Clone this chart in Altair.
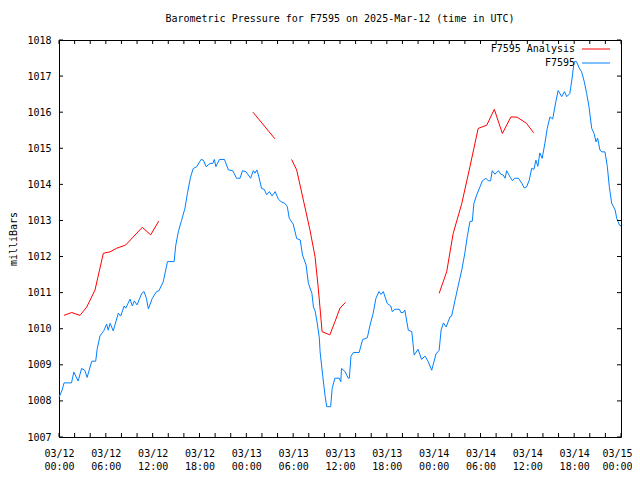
import altair as alt
import pandas as pd

# Observed station pressure (hours since 2025-03-12 00:00 UTC, millibars)
obs_hours = [0.0, 0.4, 0.65, 1.6, 1.9, 2.45, 2.9, 3.3, 3.6, 4.2, 4.7, 4.9, 5.25, 5.75, 6.1, 6.3, 6.55, 6.95,
             7.6, 7.9, 8.35, 8.55, 9.1, 9.4, 9.65, 10.0, 10.6, 10.9, 11.2, 11.45, 11.95, 12.5, 12.8, 13.35,
             13.9, 14.75, 14.95, 15.3, 15.7, 16.15, 16.45, 16.85, 17.2, 17.65, 18.2, 18.5, 18.85, 19.35,
             19.7, 19.9, 20.1, 20.55, 21.2, 21.7, 22.25, 22.75, 23.2, 23.5, 23.95, 24.55, 24.9, 25.1, 25.35,
             25.55, 25.95, 26.3, 26.6, 26.95, 27.3, 27.7, 28.1, 28.45, 28.95, 29.25, 29.5, 30.0, 30.45, 30.9,
             31.2, 31.65, 31.95, 32.4, 32.6, 32.8, 33.05, 33.35, 33.45, 33.8, 34.1, 34.3, 34.8, 35.0, 35.35,
             35.9, 36.1, 36.2, 36.65, 37.05, 37.2, 37.4, 37.7, 38.45, 38.9, 39.5, 39.85, 40.25, 40.6, 41.0,
             41.25, 41.55, 42.05, 42.5, 42.7, 43.05, 43.6, 43.8, 44.1, 44.3, 44.75, 45.2, 45.5, 46.0, 46.45,
             46.9, 47.3, 47.75, 48.3, 48.7, 48.95, 49.25, 49.6, 50.1, 50.3, 50.75, 51.15, 51.6, 52.0, 52.3,
             52.65, 52.95, 53.15, 53.5, 53.95, 54.25, 54.7, 55.0, 55.3, 55.5, 55.85, 56.3, 56.6, 56.9, 57.15,
             57.35, 57.8, 58.1, 58.35, 58.85, 59.3, 59.6, 59.9, 60.25, 60.55, 60.85, 61.1, 61.35, 61.6, 61.9,
             62.25, 62.55, 62.9, 63.25, 63.65, 63.95, 64.4, 64.75, 65.05, 65.45, 65.7, 66.0, 66.3, 66.65,
             66.95, 67.3, 67.6, 67.9, 68.25, 68.55, 68.8, 69.0, 69.3, 69.55, 69.95, 70.25, 70.5, 70.8, 71.25,
             71.45, 71.8, 72.0]
obs_mbar = [1008.1, 1008.3, 1008.5, 1008.5, 1008.8, 1008.55, 1008.9, 1008.85, 1008.65, 1009.1, 1009.1, 1009.45,
            1009.8, 1009.95, 1010.13, 1009.96, 1010.15, 1009.94, 1010.43, 1010.35, 1010.63, 1010.57, 1010.82,
            1010.63, 1010.77, 1010.66, 1010.98, 1011.03, 1010.84, 1010.55, 1010.84, 1011.03, 1011.05, 1011.3,
            1011.86, 1011.86, 1012.3, 1012.7, 1013.0, 1013.35, 1013.75, 1014.2, 1014.44, 1014.49, 1014.69,
            1014.67, 1014.49, 1014.58, 1014.58, 1014.69, 1014.49, 1014.69, 1014.69, 1014.4, 1014.38, 1014.17,
            1014.17, 1014.38, 1014.35, 1014.17, 1014.38, 1014.31, 1014.4, 1014.26, 1013.89, 1013.86, 1013.71,
            1013.8, 1013.68, 1013.8, 1013.59, 1013.52, 1013.47, 1013.38, 1013.06, 1012.9, 1012.5, 1012.46,
            1012.04, 1011.77, 1011.26, 1010.98, 1010.6, 1010.5, 1010.2, 1009.75, 1009.36, 1008.67, 1008.12,
            1007.84, 1007.84, 1008.35, 1008.63, 1008.63, 1008.53, 1008.9, 1008.81, 1008.63, 1008.63, 1009.23,
            1009.34, 1009.34, 1009.7, 1009.75, 1010.1, 1010.43, 1010.84, 1011.03, 1010.95, 1011.03, 1010.7,
            1010.63, 1010.47, 1010.54, 1010.54, 1010.45, 1010.45, 1010.52, 1009.96, 1009.92, 1009.27, 1009.43,
            1009.15, 1009.24, 1009.09, 1008.85, 1009.3, 1009.4, 1009.96, 1010.16, 1010.05, 1010.33, 1010.35,
            1010.8, 1011.2, 1011.63, 1012.1, 1012.55, 1012.97, 1012.98, 1013.47, 1013.7, 1013.94, 1014.1,
            1014.17, 1014.1, 1014.1, 1014.38, 1014.28, 1014.38, 1014.28, 1014.26, 1014.17, 1014.38, 1014.2,
            1014.1, 1014.17, 1014.17, 1014.03, 1013.9, 1013.93, 1014.12, 1014.44, 1014.42, 1014.67, 1014.5,
            1014.87, 1014.72, 1015.14, 1015.55, 1015.87, 1015.81, 1016.29, 1016.6, 1016.43, 1016.57, 1016.43,
            1016.52, 1016.89, 1017.4, 1017.4, 1017.22, 1017.12, 1016.84, 1016.52, 1016.15, 1015.55, 1015.41,
            1015.18, 1015.28, 1014.95, 1014.9, 1014.9, 1014.49, 1013.94, 1013.48, 1013.29, 1013.06, 1012.87,
            1012.85]

# Analysis pressure, in separate segments
ana_seg = [1] * 12 + [2] * 2 + [3] * 12 + [4] * 13
ana_hours = [0.64, 1.63, 2.69, 3.55, 4.61, 5.68, 6.53, 7.39, 8.54, 10.67, 11.75, 12.77,
             24.85, 27.67,
             29.8, 30.45, 31.3, 32.15, 32.8, 33.2, 33.5, 33.7, 34.7, 35.36, 36.0, 36.7,
             48.7, 49.67, 50.5, 51.6, 52.65, 53.7, 54.8, 55.77, 56.8, 57.9, 58.7, 59.9, 60.8]
ana_mbar = [1010.37, 1010.45, 1010.37, 1010.6, 1011.07, 1012.09, 1012.13, 1012.23, 1012.32, 1012.81, 1012.6, 1012.98,
            1016.0, 1015.26,
            1014.69, 1014.4, 1013.57, 1012.74, 1012.0, 1011.16, 1010.43, 1009.92, 1009.83, 1010.2, 1010.57, 1010.73,
            1010.98, 1011.58, 1012.64, 1013.47, 1014.49, 1015.55, 1015.64, 1016.08, 1015.41, 1015.87, 1015.86,
            1015.69, 1015.43]

x_label_hours = list(range(0, 73, 6))
x_tick_hours = list(range(0, 73, 2))
y_tick_values = list(range(1007, 1019))

W, H = 562, 397
RED = "#ff0000"
BLUE = "#0080ff"
FONT = "DejaVu Sans Mono"

obs = pd.DataFrame({"h": obs_hours, "p": obs_mbar})
ana = pd.DataFrame({"seg": ana_seg, "h": ana_hours, "p": ana_mbar})
xt = pd.DataFrame({"h": x_tick_hours})
yt = pd.DataFrame({"p": y_tick_values})

xs = alt.Scale(domain=[0, 72], nice=False, zero=False)
ys = alt.Scale(domain=[1007, 1018], nice=False, zero=False)

x_axis = alt.Axis(values=x_label_hours, ticks=False, domain=False, grid=False, title=None,
                  labelExpr="['03/' + format(12 + floor(datum.value / 24), '02d'), format(datum.value % 24, '02d') + ':00']",
                  labelPadding=11, labelLineHeight=13, labelFont=FONT, labelFontSize=10,
                  labelOffset={"condition": {"test": "datum.value == 72", "value": -4}, "value": 0},
                  labelColor="black", labelFlush=False, labelOverlap=False)
y_axis = alt.Axis(values=y_tick_values, ticks=False, domain=False, grid=False, title="milliBars",
                  format="d", labelPadding=8, labelFont=FONT, labelFontSize=10, labelColor="black",
                  titleFont=FONT, titleFontSize=10, titleFontWeight="normal", titleColor="black",
                  titlePadding=8, labelFlush=False, labelOverlap=False)

X = alt.X("h:Q", scale=xs, axis=x_axis)
Y = alt.Y("p:Q", scale=ys, axis=y_axis)

obs_line = alt.Chart(obs).mark_line(color=BLUE, strokeWidth=1, interpolate="linear").encode(x=X, y=Y)
ana_line = alt.Chart(ana).mark_line(color=RED, strokeWidth=1).encode(x=X, y=Y, detail="seg:N")

xtick_bottom = alt.Chart(xt).mark_rule(color="black", strokeWidth=1).encode(
    x=X, y=alt.value(H), y2=alt.value(H - 4))
xtick_top = alt.Chart(xt).mark_rule(color="black", strokeWidth=1).encode(
    x=X, y=alt.value(0), y2=alt.value(4))
ytick_left = alt.Chart(yt).mark_rule(color="black", strokeWidth=1).encode(
    y=Y, x=alt.value(0), x2=alt.value(4))
ytick_right = alt.Chart(yt).mark_rule(color="black", strokeWidth=1).encode(
    y=Y, x=alt.value(W), x2=alt.value(W - 4))

legend_src = alt.Data(values=[{}])
leg_t1 = alt.Chart(legend_src).mark_text(text="F7595 Analysis", align="right", baseline="middle",
                                          font=FONT, fontSize=10, color="black").encode(
    x=alt.value(516), y=alt.value(9))
leg_t2 = alt.Chart(legend_src).mark_text(text="F7595", align="right", baseline="middle",
                                          font=FONT, fontSize=10, color="black").encode(
    x=alt.value(516), y=alt.value(23))
leg_l1 = alt.Chart(legend_src).mark_rule(color=RED, strokeWidth=1).encode(
    x=alt.value(523), x2=alt.value(551), y=alt.value(9))
leg_l2 = alt.Chart(legend_src).mark_rule(color=BLUE, strokeWidth=1).encode(
    x=alt.value(523), x2=alt.value(551), y=alt.value(23))

chart = alt.layer(
    obs_line, ana_line, xtick_bottom, xtick_top, ytick_left, ytick_right,
    leg_t1, leg_t2, leg_l1, leg_l2,
).properties(
    width=W, height=H,
    title=alt.TitleParams("Barometric Pressure for F7595 on 2025-Mar-12 (time in UTC)",
                          font=FONT, fontSize=10, fontWeight="normal", color="black",
                          anchor="middle", offset=11),
    autosize=alt.AutoSizeParams(type="none"),
    padding={"left": 51, "top": 32, "right": 11, "bottom": 35},
    background="white",
).configure_view(stroke="black", strokeWidth=1)

chart.save("out.html", embed_options={"renderer": "svg", "actions": False})
